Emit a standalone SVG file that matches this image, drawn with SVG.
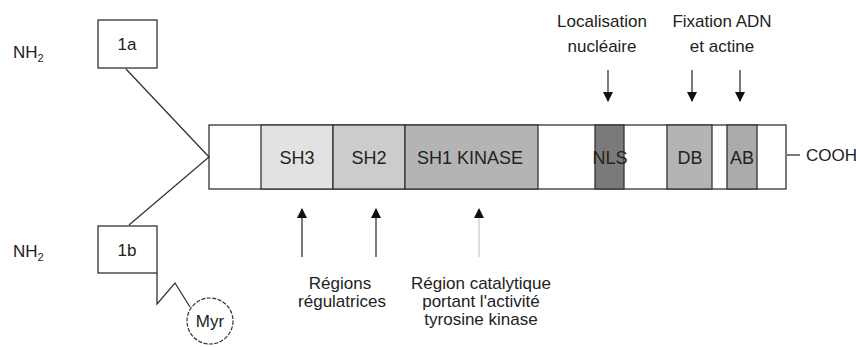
<svg xmlns="http://www.w3.org/2000/svg" width="856" height="347" viewBox="0 0 856 347">
<defs>
<style>
text{font-family:"Liberation Sans",Arial,sans-serif;fill:#222;font-size:17px}
.c{text-anchor:middle}
.d{font-size:18px}
.b{stroke:#333;stroke-width:1.3}
.ln{stroke:#333;stroke-width:1.3;fill:none}
</style>
<marker id="ah" viewBox="0 0 10 10" refX="9" refY="5" markerWidth="10" markerHeight="10" markerUnits="userSpaceOnUse" orient="auto"><path d="M0,0 L10,5 L0,10 z" fill="#111"/></marker>
</defs>
<rect width="856" height="347" fill="#fff"/>
<g id="nh2-top"><text x="13" y="58">NH<tspan font-size="11" dy="4">2</tspan></text></g>
<g id="nh2-bottom"><text x="13" y="257">NH<tspan font-size="11" dy="4">2</tspan></text></g>
<g id="box-1a"><rect x="98" y="20" width="59" height="48" fill="#fff" class="b"/><text class="c" x="127" y="50">1a</text></g>
<g id="box-1b"><rect x="98" y="226" width="59" height="47" fill="#fff" class="b"/><text class="c" x="127" y="256">1b</text></g>
<g id="myr"><circle cx="210" cy="321" r="23" fill="#fff" stroke="#333" stroke-width="1.2" stroke-dasharray="4,1.5"/><text class="c" x="210" y="327">Myr</text></g>
<g id="protein">
<rect x="209" y="125" width="577" height="64" fill="#fff" class="b"/>
<rect x="261" y="125" width="72" height="64" fill="#e2e2e2" class="b"/>
<rect x="333" y="125" width="72" height="64" fill="#cccccc" class="b"/>
<rect x="405" y="125" width="133" height="64" fill="#b4b4b4" class="b"/>
<rect x="595" y="125" width="29" height="64" fill="#7a7a7a" class="b"/>
<rect x="667" y="125" width="45" height="64" fill="#b4b4b4" class="b"/>
<rect x="727" y="125" width="30" height="64" fill="#ababab" class="b"/>
<text class="c d" x="297" y="164">SH3</text>
<text class="c d" x="369" y="164">SH2</text>
<text class="c d" x="470" y="164">SH1 KINASE</text>
<text class="c d" x="610" y="164">NLS</text>
<text class="c d" x="690" y="164">DB</text>
<text class="c d" x="742" y="164">AB</text>
</g>
<g id="cooh"><text x="806" y="161" font-size="16">COOH</text></g>
<g id="label-nls"><text class="c" x="602" y="27">Localisation</text><text class="c" x="602" y="52">nucléaire</text></g>
<g id="label-dna"><text class="c" x="722" y="27">Fixation ADN</text><text class="c" x="722" y="52">et actine</text></g>
<g id="label-reg"><text class="c" x="340" y="289">Régions</text><text class="c" x="342" y="307">régulatrices</text></g>
<g id="label-cat"><text class="c" x="481" y="289">Région catalytique</text><text class="c" x="481" y="307">portant l'activité</text><text class="c" x="481" y="325">tyrosine kinase</text></g>
<g id="connectors">
<path class="ln" d="M126,69 L209,157 L129,225"/>
<path class="ln" d="M157,273 L157,304 L175,283 L190,307"/>
<path class="ln" d="M787,155 L800,155"/>
<line class="ln" x1="608" y1="70" x2="608" y2="101" marker-end="url(#ah)"/>
<line class="ln" x1="692" y1="70" x2="692" y2="101" marker-end="url(#ah)"/>
<line class="ln" x1="740" y1="70" x2="740" y2="101" marker-end="url(#ah)"/>
<line class="ln" x1="302" y1="257" x2="302" y2="209" marker-end="url(#ah)"/>
<line class="ln" x1="376" y1="257" x2="376" y2="209" marker-end="url(#ah)"/>
<line x1="479" y1="257" x2="479" y2="209" stroke="#bbb" stroke-width="1" marker-end="url(#ah)"/>
</g>
</svg>
